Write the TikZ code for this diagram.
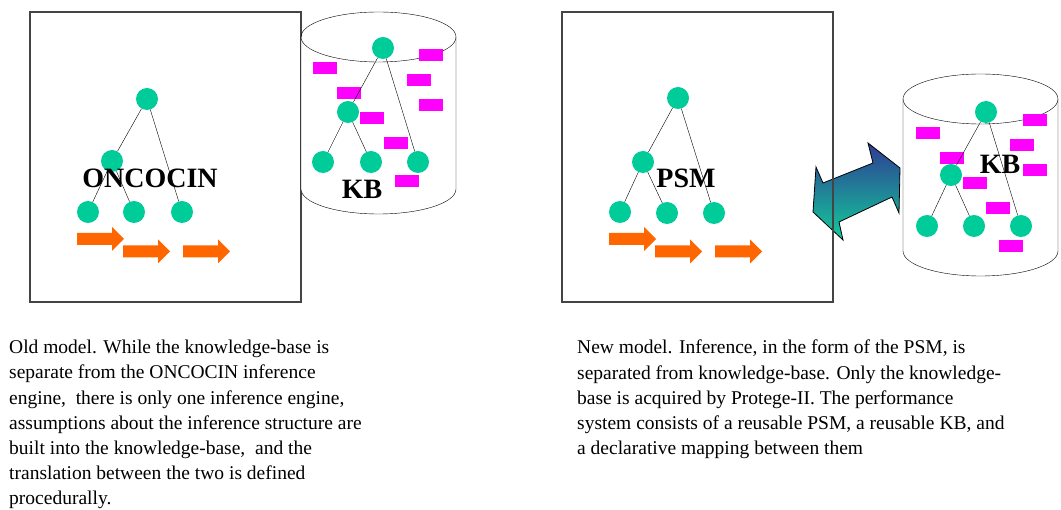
\documentclass[tikz,border=0pt]{standalone}
\usepackage{fontspec}
\setmainfont{Liberation Serif}
\usetikzlibrary{positioning}
\definecolor{nodegreen}{HTML}{00CC99}
\definecolor{factpink}{HTML}{FF00FF}
\definecolor{floworange}{HTML}{FF6600}
\definecolor{boxgray}{HTML}{444444}
\definecolor{mapblue}{HTML}{2E3C94}
\definecolor{mapgreen}{HTML}{12CC9A}
\tikzset{
    kbDrum/.pic={
		\draw[fill=white] (-77.5,0) -- (-77.5,152) arc[start angle=180, end angle=360, x radius=77.5pt, y radius=25pt] -- (77.5,0);
		\draw (0,0) ellipse [x radius=77.5pt, y radius=25pt];
	}
}
\tikzset{
    flowArrow/.pic={
		\fill[floworange] (0,-6) -- (35,-6) -- (35,-12) -- (47,0) -- (35,12) -- (35,6) -- (0,6) -- cycle;
	}
}
\tikzset{
    fact/.pic={
		\fill[factpink] (0,0) rectangle (24,12);
	}
}
\tikzset{
    tnode/.style={circle, fill=nodegreen, inner sep=0pt, minimum size=22pt},
    bigLabel/.style={font=\bfseries\fontsize{28}{30}\selectfont, inner sep=0pt},
    caption/.style={align=left, inner sep=0pt, anchor=north west, font=\fontsize{19.5}{25.2}\selectfont},
    frame/.style={boxgray, line width=1.3pt}
}

\begin{document}
\begin{tikzpicture}[x=1pt, y=-1pt]
			\useasboundingbox (0,0) rectangle (1061,510);
			% old model
			\draw[frame] (30,12) rectangle (301,302);
			\pic at (378.5,37) {kbDrum};
			\pic at (313,62) {fact};
			\pic at (419,49) {fact};
			\pic at (407,74) {fact};
			\pic at (337,87) {fact};
			\pic at (419,99) {fact};
			\pic at (360,112) {fact};
			\pic at (384,137) {fact};
			\pic at (395,175) {fact};
			\node[tnode] (oRoot) at (147,99) {};
			\node[tnode] (oMid) at (112,161) {};
			\node[tnode] (oLeafA) at (88,212) {};
			\node[tnode] (oLeafB) at (134,212) {};
			\node[tnode] (oLeafC) at (182,212) {};
			\draw (oRoot) -- (oMid);
			\draw (oRoot) -- (oLeafC);
			\draw (oMid) -- (oLeafA);
			\draw (oMid) -- (oLeafB);
			\node[bigLabel] (oncocin) at (150,178) {ONCOCIN};
			\pic at (77,239) {flowArrow};
			\pic at (123,251.5) {flowArrow};
			\pic at (183,251.5) {flowArrow};
			\node[tnode] (okRoot) at (383,48) {};
			\node[tnode] (okMid) at (348,112) {};
			\node[tnode] (okLeafA) at (323,162) {};
			\node[tnode] (okLeafB) at (371,162) {};
			\node[tnode] (okLeafC) at (418,162) {};
			\draw (okRoot) -- (okMid);
			\draw (okRoot) -- (okLeafC);
			\draw (okMid) -- (okLeafA);
			\draw (okMid) -- (okLeafB);
			\node[bigLabel] (oldKB) at (362,189) {KB};
			% new model
			\shade[top color=mapblue, bottom color=mapgreen, draw=black, line width=0.8pt]
				(868,143) -- (873,163) -- (823,183) -- (816,167) -- (813,212) -- (843,240)
				-- (839,222) -- (892,197) -- (899,213) -- (900,168) -- cycle;
			\draw[frame] (562,12) rectangle (833,302);
			\pic at (980.5,99) {kbDrum};
			\pic at (916,127) {fact};
			\pic at (1023,114) {fact};
			\pic at (1010,139) {fact};
			\pic at (940,152) {fact};
			\pic at (1023,164) {fact};
			\pic at (963,177) {fact};
			\pic at (986,202) {fact};
			\pic at (999,240) {fact};
			\node[tnode] (nRoot) at (678,98) {};
			\node[tnode] (nMid) at (643,162) {};
			\node[tnode] (nLeafA) at (620,212) {};
			\node[tnode] (nLeafB) at (667,213) {};
			\node[tnode] (nLeafC) at (714,213) {};
			\draw (nRoot) -- (nMid);
			\draw (nRoot) -- (nLeafC);
			\draw (nMid) -- (nLeafA);
			\draw (nMid) -- (nLeafB);
			\node[bigLabel] (psm) at (686,178) {PSM};
			\pic at (609,239) {flowArrow};
			\pic at (655,251.5) {flowArrow};
			\pic at (715,251.5) {flowArrow};
			\node[tnode] (nkRoot) at (986,112) {};
			\node[tnode] (nkMid) at (951,175) {};
			\node[tnode] (nkLeafA) at (927,226) {};
			\node[tnode] (nkLeafB) at (974,226) {};
			\node[tnode] (nkLeafC) at (1021,226) {};
			\draw (nkRoot) -- (nkMid);
			\draw (nkRoot) -- (nkLeafC);
			\draw (nkMid) -- (nkLeafA);
			\draw (nkMid) -- (nkLeafB);
			\node[bigLabel] (newKB) at (1000,164) {KB};
			% captions
			\node[caption] (oldText) at (9,340) {Old model. While the knowledge-base is\\separate from the ONCOCIN inference\\engine,\ \ there is only one inference engine,\\assumptions about the inference structure are\\built into the knowledge-base,\ \ and the\\translation between the two is defined\\procedurally.};
			\node[caption] (newText) at (577,340) {New model. Inference, in the form of the PSM, is\\separated from knowledge-base. Only the knowledge-\\base is acquired by Protege-II. The performance\\system consists of a reusable PSM, a reusable KB, and\\a declarative mapping between them};
	\end{tikzpicture}
\end{document}
